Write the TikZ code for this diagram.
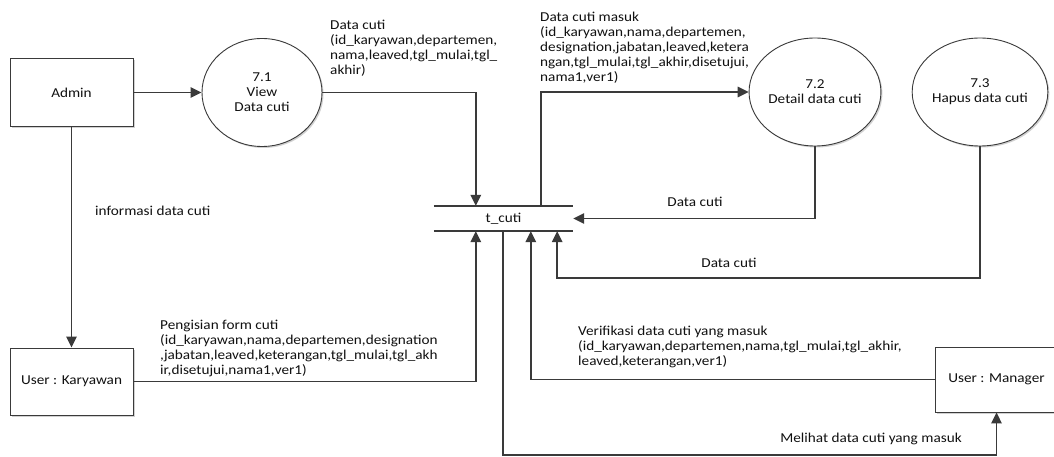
\documentclass[tikz,border=0pt]{standalone}
\usepackage{fontspec}
\setmainfont{Carlito}[FakeStretch=1.12]
\usetikzlibrary{arrows.meta,shapes.geometric,calc,shadows}
\definecolor{ln}{HTML}{3A3A3A}
\definecolor{tx}{HTML}{111111}
\begin{document}
\begin{tikzpicture}[x=1pt,y=-1pt,
  every node/.style={font=\fontsize{13.6}{15}\selectfont, text=tx},
  shade1/.style={drop shadow={shadow xshift=1.5pt,shadow yshift=-1.5pt,fill=black!18,opacity=1}},
  ent/.style={draw=ln, line width=0.9pt, fill=white, minimum width=123pt, inner sep=0pt, shade1},
  proc/.style={ellipse, draw=ln, line width=0.9pt, fill=white, minimum width=120pt, minimum height=108pt, inner sep=0pt, align=center, shade1},
  flow/.style={draw=ln, line width=1.5pt, -{Triangle[length=11pt,width=10.5pt]}},
  plain/.style={draw=ln, line width=1.7pt},
  lbl/.style={align=left, anchor=north west, inner sep=0pt}
]
\path[use as bounding box, clip] (0,0) rectangle (1054,457);
\fill[white] (0,0) rectangle (1054,457);

% entities
\node[ent, minimum height=68pt] (admin) at (71.5,92.5) {Admin};
\node[ent, minimum height=67pt] (uk) at (71.5,381.5) {User : Karyawan};
\node[ent, minimum height=65pt] (um) at (996.5,379.5) {User : Manager};

% processes
\node[proc] (p71) at (262,92.5) {7.1\\View\\Data cuti};
\node[proc] (p72) at (815,92) {7.2\\Detail data cuti};
\node[proc] (p73) at (980,92) {7.3\\Hapus data cuti};

% data store
\node[minimum width=139pt, minimum height=25pt, inner sep=0pt] (tc) at (503.5,218.5) {t\_cuti};
\draw[plain] (tc.north west) -- (tc.north east);
\draw[plain] (tc.south west) -- (tc.south east);

% flows
\draw[flow] (admin.east) -- (p71.west);
\draw[flow] (p71.east) -| ($(tc.north west)+(42,0)$);
\draw[flow] ($(tc.north west)+(107,0)$) |- (p72.west);
\draw[flow] (p72.south) |- (tc.east);
\draw[flow] (p73.south) |- ($(tc.south east)+(-16,47)$) -- ($(tc.south east)+(-16,0)$);
\draw[flow] (uk.east) -| ($(tc.south west)+(42,0)$);
\draw[flow] (um.west) -| ($(tc.south west)+(97,0)$);
\draw[flow] ($(tc.south west)+(69,0)$) -- ++(0,224) -| (um.south);
\draw[flow] (admin.south) -- (uk.north);

% labels
\node[lbl] (l1) at (330,20) {Data cuti\\(id\_karyawan,departemen,\\nama,leaved,tgl\_mulai,tgl\_\\akhir)};
\node[lbl] (l2) at (540,12) {Data cuti masuk\\(id\_karyawan,nama,departemen,\\designation,jabatan,leaved,ketera\\ngan,tgl\_mulai,tgl\_akhir,disetujui,\\nama1,ver1)};
\node[anchor=west, inner sep=0pt] (l3) at (95,211) {informasi data cuti};
\node[inner sep=0pt] (l4) at (695,202) {Data cuti};
\node[inner sep=0pt] (l5) at (729,263) {Data cuti};
\node[lbl] (l6) at (160,320) {Pengisian form cuti\\(id\_karyawan,nama,departemen,designation\\,jabatan,leaved,keterangan,tgl\_mulai,tgl\_akh\\ir,disetujui,nama1,ver1)};
\node[lbl] (l7) at (578,326) {Verifikasi data cuti yang masuk\\(id\_karyawan,departemen,nama,tgl\_mulai,tgl\_akhir,\\leaved,keterangan,ver1)};
\node[inner sep=0pt] (l8) at (871,439) {Melihat data cuti yang masuk};
\end{tikzpicture}
\end{document}
